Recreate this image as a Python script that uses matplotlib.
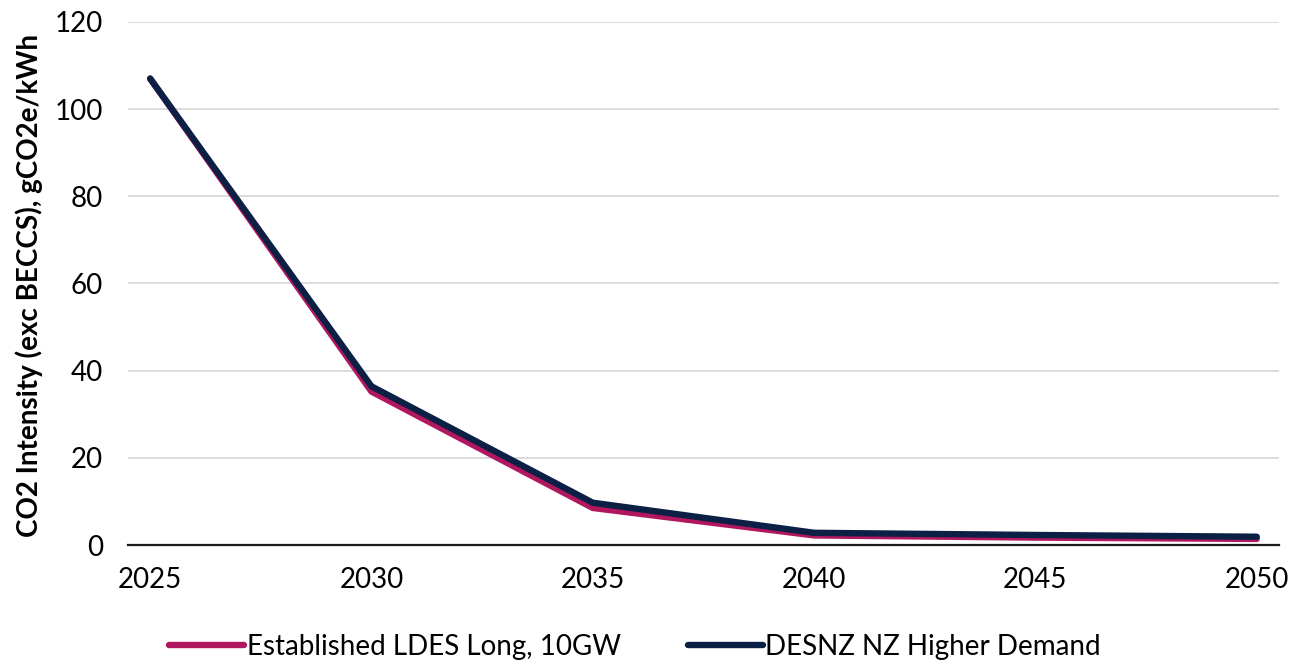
import matplotlib.pyplot as plt

years = [2025, 2030, 2035, 2040, 2045, 2050]
ldes_long_10gw = [107.0, 35.2, 8.5, 2.2, 1.7, 1.4]
desnz_higher_demand = [107.0, 36.4, 9.7, 2.8, 2.3, 1.9]

series_names = ['Established LDES Long, 10GW', 'DESNZ NZ Higher Demand']
series_colors = ['#B0175E', '#0C1F45']

plt.rcParams['font.family'] = ['Lato', 'DejaVu Sans']

fig = plt.figure(figsize=(13.01, 6.64), dpi=100)
ax = fig.add_axes([0.0984, 0.1792, 0.8846, 0.7878])

for vals, name, color in zip([ldes_long_10gw, desnz_higher_demand], series_names, series_colors):
    ax.plot(years, vals, color=color, lw=4.6, label=name,
            solid_capstyle='round', solid_joinstyle='miter')

ax.set_xlim(2024.5, 2050.5)
ax.set_ylim(0, 120)
ax.set_xticks(years)
ax.set_yticks(range(0, 121, 20))
ax.tick_params(axis='both', length=0, labelsize=20, colors='black')
ax.tick_params(axis='x', pad=16)
ax.tick_params(axis='y', pad=18)

ax.grid(axis='y', color='#d9d9d9', lw=1.3)
ax.set_axisbelow(True)
for side in ['top', 'right', 'left']:
    ax.spines[side].set_visible(False)
ax.spines['bottom'].set_color('#1a1a1a')
ax.spines['bottom'].set_linewidth(1.6)

ax.set_ylabel('CO2 Intensity (exc BECCS), gCO2e/kWh', fontsize=20,
              fontweight='bold')
ax.yaxis.set_label_coords(-0.0735, 0.497)

fig.legend(loc='center', bbox_to_anchor=(635 / 1301, 1 - 647 / 664), ncol=2,
           frameon=False, fontsize=20, handlelength=2.7, handletextpad=0.1,
           columnspacing=2.4)

fig.savefig('out.png', dpi=100)
